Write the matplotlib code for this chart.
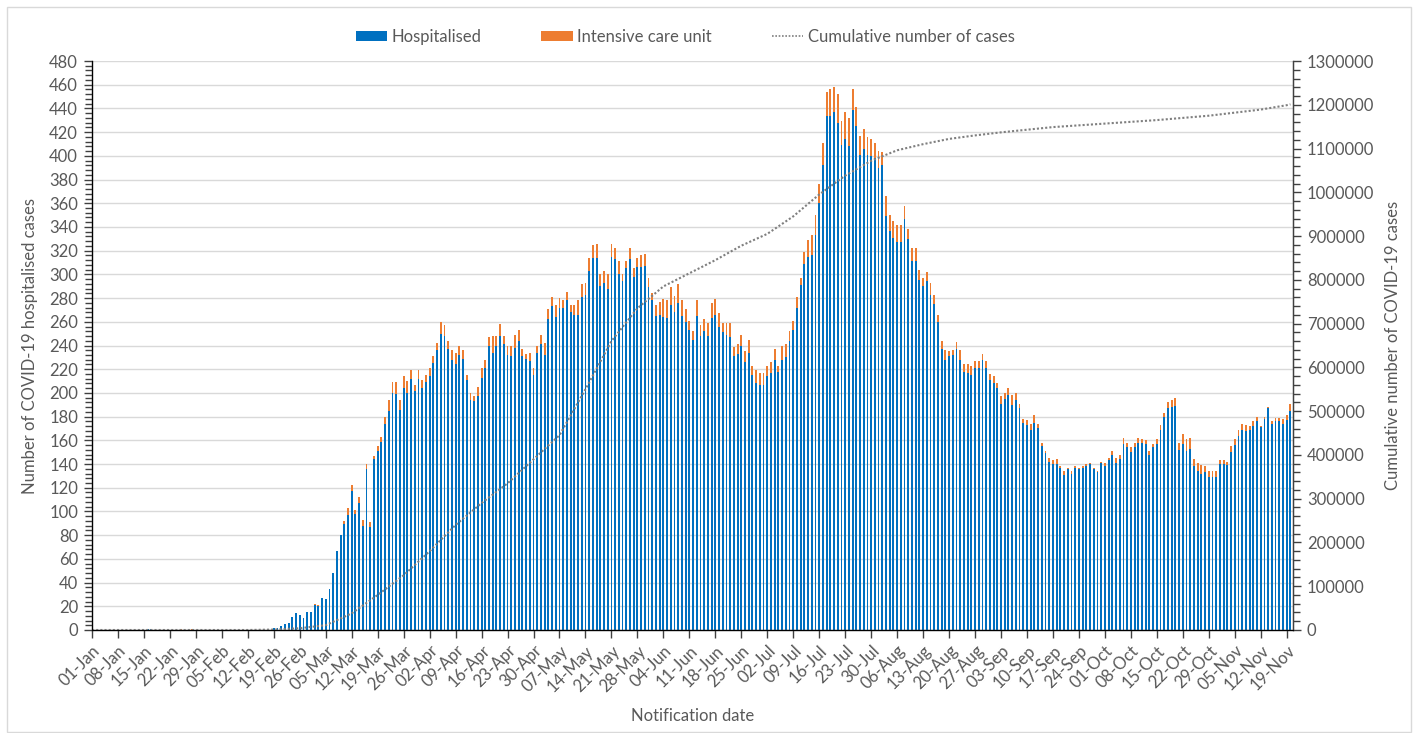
import matplotlib
matplotlib.use('Agg')
import matplotlib.pyplot as plt
import numpy as np
import pandas as pd
from matplotlib.patches import Patch, Rectangle
from matplotlib.lines import Line2D
from matplotlib.ticker import MultipleLocator, FuncFormatter

# ---------------- data ----------------
start_date = "2021-01-01"   # non-leap calendar so labels read 26-Feb -> 05-Mar

# total hospitalised (incl. ICU) per notification day, 01-Jan .. 20-Nov
total = [
    0, 0, 0, 0, 0, 0, 0, 0, 0, 0, 0, 0, 0, 0, 0, 1, 1, 0, 0, 0,
    0, 0, 0, 0, 1, 0, 0, 1, 0, 0, 0, 0, 0, 0, 0, 0, 0, 0, 0, 0,
    0, 0, 0, 0, 0, 0, 0, 0, 0, 2, 2, 3, 5, 6, 11, 14, 13, 10, 15, 15,
    22, 21, 27, 26, 35, 48, 67, 80, 92, 103, 122, 101, 112, 93, 140, 91, 147, 155, 163, 180,
    194, 209, 209, 194, 214, 210, 219, 207, 219, 211, 215, 221, 231, 242, 260, 257, 244, 236, 234, 240,
    236, 215, 200, 197, 205, 221, 228, 247, 248, 248, 258, 248, 240, 240, 249, 253, 237, 233, 234, 221,
    240, 249, 242, 271, 281, 274, 280, 278, 285, 274, 274, 278, 292, 293, 314, 325, 326, 300, 303, 300,
    326, 322, 311, 300, 311, 322, 305, 314, 316, 317, 297, 284, 274, 277, 279, 278, 289, 282, 292, 278,
    271, 261, 252, 278, 257, 262, 259, 276, 279, 267, 259, 259, 259, 239, 241, 249, 235, 245, 223, 219,
    217, 217, 223, 226, 237, 223, 240, 241, 252, 261, 281, 297, 319, 329, 333, 350, 376, 411, 454, 456,
    458, 452, 429, 437, 432, 456, 441, 417, 423, 416, 414, 411, 404, 403, 366, 350, 345, 342, 342, 358,
    338, 322, 322, 304, 297, 302, 293, 283, 266, 244, 236, 235, 236, 243, 236, 224, 224, 223, 227, 227,
    233, 227, 216, 214, 208, 197, 200, 204, 198, 200, 191, 178, 177, 174, 181, 174, 158, 151, 145, 143,
    144, 138, 134, 137, 134, 138, 137, 138, 140, 141, 137, 134, 142, 141, 145, 151, 145, 148, 162, 158,
    154, 158, 162, 161, 160, 151, 157, 161, 173, 183, 192, 194, 196, 158, 165, 161, 162, 144, 141, 139,
    138, 134, 134, 134, 143, 143, 142, 155, 161, 169, 174, 173, 172, 176, 180, 172, 180, 188, 176, 179,
    179, 178, 181, 191,
]

# intensive care unit part of each day's total
icu = [
    0, 0, 0, 0, 0, 0, 0, 0, 0, 0, 0, 0, 0, 0, 0, 0, 0, 0, 0, 0,
    0, 0, 0, 0, 1, 0, 0, 1, 0, 0, 0, 0, 0, 0, 0, 0, 0, 0, 0, 0,
    0, 0, 0, 0, 0, 0, 0, 0, 0, 0, 0, 0, 0, 0, 0, 0, 0, 0, 0, 0,
    1, 1, 0, 0, 0, 0, 0, 0, 3, 6, 5, 3, 5, 5, 4, 4, 3, 4, 4, 6,
    9, 9, 10, 8, 10, 10, 7, 5, 7, 7, 6, 7, 6, 6, 10, 9, 7, 8, 10, 8,
    7, 4, 6, 4, 8, 8, 7, 7, 14, 8, 10, 7, 8, 9, 11, 9, 6, 4, 7, 6,
    6, 8, 10, 9, 8, 10, 8, 6, 7, 6, 8, 12, 11, 10, 11, 11, 12, 10, 10, 12,
    11, 9, 11, 6, 6, 9, 7, 8, 10, 10, 8, 6, 9, 11, 15, 15, 15, 14, 16, 13,
    11, 8, 7, 13, 9, 10, 11, 13, 13, 11, 8, 10, 12, 8, 8, 9, 9, 11, 8, 11,
    10, 10, 9, 9, 9, 5, 12, 11, 8, 8, 9, 6, 10, 14, 17, 17, 16, 19, 20, 22,
    21, 24, 20, 23, 24, 17, 16, 16, 17, 15, 14, 13, 14, 11, 17, 13, 14, 15, 15, 11,
    8, 11, 11, 9, 7, 8, 10, 8, 6, 7, 8, 4, 4, 6, 8, 6, 7, 8, 6, 6,
    5, 6, 5, 6, 4, 6, 5, 6, 8, 6, 4, 3, 4, 5, 6, 4, 3, 2, 3, 3,
    4, 1, 3, 1, 2, 1, 1, 1, 2, 1, 1, 1, 1, 3, 2, 3, 4, 4, 5, 4,
    4, 4, 4, 3, 3, 3, 3, 4, 4, 3, 5, 6, 7, 6, 8, 10, 9, 6, 7, 7,
    5, 5, 5, 5, 3, 3, 3, 5, 5, 5, 5, 5, 3, 4, 4, 1, 2, 1, 2, 3,
    3, 4, 4, 6,
]

# cumulative number of cases, read weekly (day index from 01-Jan)
cum_days = [0, 7, 14, 21, 28, 35, 42, 49, 56, 63, 70, 77, 84, 91, 98, 105, 112, 119,
            126, 133, 140, 147, 154, 161, 168, 175, 182, 189, 196, 203, 210, 217, 224,
            231, 238, 245, 252, 259, 266, 273, 280, 287, 294, 301, 308, 315, 322, 323]
cum_values = [0, 0, 0, 0, 0, 0, 0, 1000, 4000, 11000, 38000, 80000, 125000, 180000,
              240000, 290000, 335000, 390000, 445000, 550000, 660000, 735000, 785000,
              815000, 845000, 878000, 905000, 945000, 995000, 1038000, 1072000, 1096000,
              1110000, 1122000, 1130000, 1137000, 1143000, 1149000, 1153000, 1157000,
              1161000, 1165000, 1170000, 1175000, 1182000, 1189000, 1199000, 1201000]

# ---------------- plot ----------------
plt.rcParams['font.family'] = ['Lato', 'DejaVu Sans']
TXT = '#595959'
BLUE = '#0070C0'
ORANGE = '#ED7D31'
AXC = '#404040'
FS_TICK = 12
FS_TITLE = 12

dates = pd.date_range(start_date, periods=len(total), freq='D')
days = np.arange(len(total))
hosp = np.array(total) - np.array(icu)

fig = plt.figure(figsize=(14.18, 7.33), dpi=100)
ax = fig.add_axes([92/1418, 1-630/733, (1293-92)/1418, (630-61)/733])

bw = 0.5
ax.bar(days, hosp, width=bw, color=BLUE, linewidth=0, zorder=2)
ax.bar(days, icu, width=bw, bottom=hosp, color=ORANGE, linewidth=0, zorder=2)

ax.set_ylim(0, 480)
ax.set_xlim(0, 323.7)
ax.yaxis.set_major_locator(MultipleLocator(20))
ax.yaxis.set_minor_locator(MultipleLocator(4))
ax.grid(axis='y', which='major', color='#d9d9d9', linewidth=1, zorder=0)
ax.set_axisbelow(True)

tick_days = np.arange(0, len(total), 7)
ax.set_xticks(tick_days)
ax.set_xticklabels([dates[d].strftime('%d-%b') for d in tick_days], rotation=45,
                   ha='right', rotation_mode='anchor', fontsize=FS_TICK, color=TXT)
ax.tick_params(axis='x', which='major', length=6, width=1, color=AXC, pad=3)
ax.tick_params(axis='y', which='major', length=6, width=1, color=AXC,
               labelsize=FS_TICK, labelcolor=TXT, pad=4)
ax.tick_params(axis='y', which='minor', length=5, width=1, color=AXC)

ax.spines['top'].set_visible(False)
for s in ['left', 'bottom', 'right']:
    ax.spines[s].set_color(AXC)
    ax.spines[s].set_linewidth(1)

ax.set_ylabel('Number of COVID-19 hospitalised cases', fontsize=FS_TITLE, color=TXT, labelpad=8)
ax.set_xlabel('Notification date', fontsize=FS_TITLE, color=TXT, labelpad=10)

ax2 = ax.twinx()
ax2.plot(cum_days, cum_values, color='#7f7f7f', linestyle=(0, (1, 1)), linewidth=1.5)
ax2.set_ylim(0, 1300000)
ax2.yaxis.set_major_locator(MultipleLocator(100000))
ax2.yaxis.set_minor_locator(MultipleLocator(20000))
ax2.yaxis.set_major_formatter(FuncFormatter(lambda v, p: f'{int(v)}'))
ax2.tick_params(axis='y', which='major', length=6, width=1, color=AXC,
                labelsize=FS_TICK, labelcolor=TXT, pad=4)
ax2.tick_params(axis='y', which='minor', length=5, width=1, color=AXC)
ax2.spines['top'].set_visible(False)
ax2.spines['right'].set_color(AXC)
ax2.set_ylabel('Cumulative number of COVID-19 cases', fontsize=FS_TITLE, color=TXT, labelpad=8)

handles = [Patch(facecolor=BLUE, edgecolor='none'),
           Patch(facecolor=ORANGE, edgecolor='none'),
           Line2D([0], [0], color='#7f7f7f', linestyle=(0, (1, 1)), linewidth=1.2)]
labels = ['Hospitalised', 'Intensive care unit', 'Cumulative number of cases']
fig.legend(handles, labels, loc='center', bbox_to_anchor=(685/1418, 1-37/733), ncol=3,
           frameon=False, fontsize=12, labelcolor=TXT, handlelength=1.9,
           handleheight=0.6, handletextpad=0.25, columnspacing=3.6)

fig.patches.append(Rectangle((7/1418, 1-732/733), (1411-7)/1418, (732-7)/733,
                             transform=fig.transFigure, fill=False,
                             edgecolor='#d9d9d9', linewidth=1))

fig.savefig('out.png', dpi=100)
